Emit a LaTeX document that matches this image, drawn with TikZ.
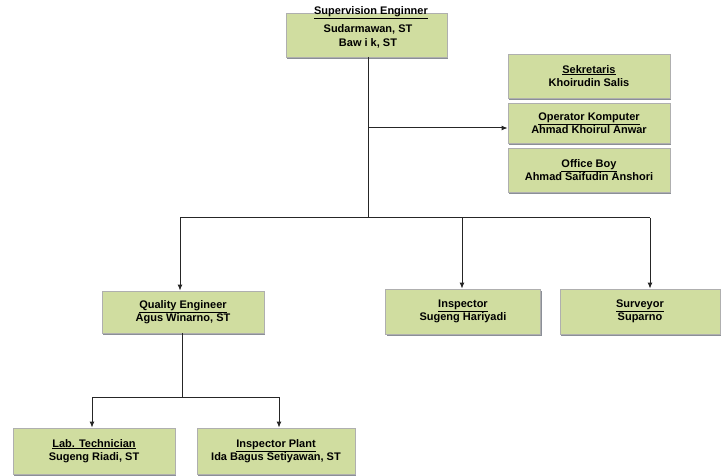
\documentclass[tikz,border=0pt]{standalone}
\usepackage{fontspec}
\setmainfont{Liberation Sans}
\usetikzlibrary{arrows.meta,shadows}
\definecolor{boxgreen}{RGB}{208,221,160}
\definecolor{boxedge}{RGB}{175,175,175}
\definecolor{shadowgray}{RGB}{110,115,125}
\newcommand{\ttl}[1]{\underline{#1}}
\tikzset{
  orgfont/.style={font=\bfseries\fontsize{11}{13.5}\selectfont},
  orgbox/.style={orgfont, draw=boxedge, line width=0.8pt, fill=boxgreen, align=center,
    inner sep=0pt,
    drop shadow={shadow xshift=1pt, shadow yshift=-2pt, fill=shadowgray, opacity=0.8}},
  conn/.style={line width=1pt, draw=black!85},
  arr/.style={conn, -{Latex[length=6pt,width=5pt]}}
}
\begin{document}
\begin{tikzpicture}[x=1pt,y=-1pt]
\useasboundingbox (0,0) rectangle (721,476);
% boxes
\node[orgbox, minimum width=161pt, minimum height=44pt] (sup) at (366.5,35) {};
\node[orgfont, align=center, inner sep=0pt] (suptext) at (368,36.5) {Sudarmawan, ST\\Baw i k, ST};
\node[orgfont, inner sep=0.5pt] (suptitle) at (371,12.5) {\ttl{Supervision Enginner}};
\node[orgbox, minimum width=162pt, minimum height=44pt] (sek) at (589,76) {\ttl{Sekretaris}\\Khoirudin Salis};
\node[orgbox, minimum width=162pt, minimum height=40pt] (op) at (589,123) {\ttl{Operator Komputer}\\Ahmad Khoirul Anwar};
\node[orgbox, minimum width=162pt, minimum height=44pt] (ob) at (589,170) {\ttl{Office Boy}\\Ahmad Saifudin Anshori};
\node[orgbox, minimum width=162pt, minimum height=42pt] (qe) at (183,312) {\ttl{Quality Engineer}\\Agus Winarno, ST};
\node[orgbox, minimum width=155pt, minimum height=45pt] (insp) at (463,311.5) {\ttl{Inspector}\\Sugeng Hariyadi};
\node[orgbox, minimum width=160pt, minimum height=45pt] (surv) at (640,311.5) {\ttl{Surveyor}\\Suparno};
\node[orgbox, minimum width=162pt, minimum height=46pt] (lab) at (94,451) {\ttl{Lab. Technician}\\Sugeng Riadi, ST};
\node[orgbox, minimum width=158pt, minimum height=46pt] (ip) at (276,451) {\ttl{Inspector Plant}\\Ida Bagus Setiyawan, ST};
% junctions
\coordinate (j0) at (368,57);
\coordinate (j1) at (368,128);
\coordinate (j2) at (368,218);
\coordinate (hL) at (180,218);
\coordinate (hM) at (462,218);
\coordinate (hR) at (650,218);
\coordinate (q0) at (182,333);
\coordinate (q1) at (182,397);
\coordinate (lL) at (92,397);
\coordinate (lR) at (279,397);
% connectors
\draw[conn] (j0) -- (j2);
\draw[arr] (j1) -- (j1 -| op.west);
\draw[conn] (hL) -- (hR);
\draw[arr] (hL) -- (hL |- qe.north);
\draw[arr] (hM) -- (hM |- insp.north);
\draw[arr] (hR) -- (hR |- surv.north);
\draw[conn] (q0) -- (q1);
\draw[conn] (lL) -- (lR);
\draw[arr] (lL) -- (lL |- lab.north);
\draw[arr] (lR) -- (lR |- ip.north);
\end{tikzpicture}
\end{document}
